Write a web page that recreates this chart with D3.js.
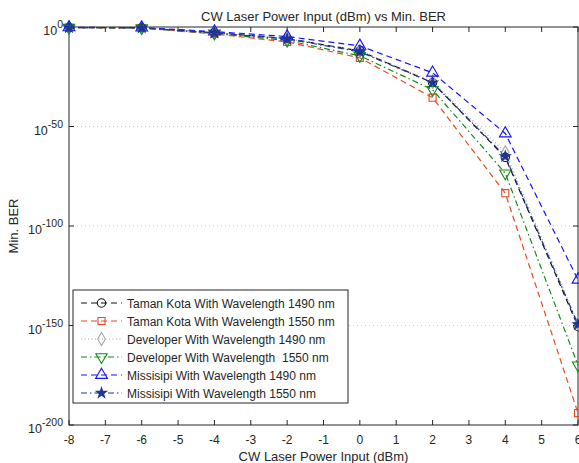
<!DOCTYPE html>
<html>
<head>
<meta charset="utf-8">
<script src="https://cdn.jsdelivr.net/npm/d3@7"></script>
<style>
  body { margin: 0; background: #fff; }
  text { font-family: "Liberation Sans", Arial, sans-serif; fill: #262626; white-space: pre; }
</style>
</head>
<body>
<div id="chart"></div>
<script>
// --------------------------------------
//  Data (log10 of Min. BER)
// --------------------------------------

const powerInput = [-8, -6, -4, -2, 0, 2, 4, 6];

const tamanKota1490 = [-0.3, -0.4, -2.8, -5.8, -12, -28, -65.5, -150.5];
const tamanKota1550 = [-0.3, -0.5, -3.5, -7.5, -15.5, -35.5, -83.5, -194];
const developer1490 = [-0.3, -0.4, -2.8, -5.8, -12, -27.5, -63, -149];
const developer1550 = [-0.3, -0.5, -3.2, -6.8, -14.5, -31.5, -73.5, -170];
const missisipi1490 = [-0.2, -0.3, -2.3, -4.8, -9.5, -23, -53.5, -127];
const missisipi1550 = [-0.3, -0.4, -2.9, -6, -12.5, -28, -65, -149.5];

const seriesLabels = [
  "Taman Kota With Wavelength 1490 nm",
  "Taman Kota With Wavelength 1550 nm",
  "Developer With Wavelength 1490 nm",
  "Developer With Wavelength  1550 nm",
  "Missisipi With Wavelength 1490 nm",
  "Missisipi With Wavelength 1550 nm"
];

const xTicks = [-8, -7, -6, -5, -4, -3, -2, -1, 0, 1, 2, 3, 4, 5, 6];
const yTicks = [0, -50, -100, -150, -200];

// --------------------------------------
//  Canvas
// --------------------------------------

const width = 579, height = 463;
const margin = { left: 69, right: 1, top: 27, bottom: 38 };

const svg = d3.select("#chart")
  .append("svg")
    .attr("width", width)
    .attr("height", height);

const x = d3.scaleLinear()
  .domain([-8, 6])
  .range([margin.left, width - margin.right]);

const y = d3.scaleLinear()
  .domain([0, -200])
  .range([margin.top, height - margin.bottom]);

const styles = [
  { color: "#111111", dash: "6,4", symbol: "circle" },
  { color: "#ea4a1f", dash: "6,4", symbol: "square" },
  { color: "#a6a6a6", dash: "1,2.5", symbol: "diamond" },
  { color: "#14891a", dash: "6,3,1.5,3", symbol: "down" },
  { color: "#1414ff", dash: "6,4", symbol: "up" },
  { color: "#1f3590", dash: "6,3,1.5,3", symbol: "star" }
];

const allSeries = [tamanKota1490, tamanKota1550, developer1490, developer1550, missisipi1490, missisipi1550]
  .map((vals, i) => ({
    label: seriesLabels[i],
    style: styles[i],
    points: powerInput.map((p, j) => ({ x: p, y: vals[j] }))
  }));

// --------------------------------------
//  Grid and axes
// --------------------------------------

svg.append("g")
  .selectAll("line")
  .data(yTicks.filter(t => t !== 0 && t !== -200))
  .join("line")
    .attr("x1", x(-8)).attr("x2", x(6))
    .attr("y1", d => y(d)).attr("y2", d => y(d))
    .attr("stroke", "#c8c8c8")
    .attr("stroke-width", 1)
    .attr("stroke-dasharray", "1,3");

const axisColor = "#262626";
const tickLen = 5;

// box
svg.append("rect")
  .attr("x", x(-8)).attr("y", y(0))
  .attr("width", x(6) - x(-8)).attr("height", y(-200) - y(0))
  .attr("fill", "none")
  .attr("stroke", axisColor)
  .attr("stroke-width", 1);

// x ticks (bottom up, top down)
svg.append("g")
  .selectAll("path")
  .data(xTicks)
  .join("path")
    .attr("d", d => `M${x(d)},${y(-200)}v${-tickLen}M${x(d)},${y(0)}v${tickLen}`)
    .attr("stroke", axisColor);

svg.append("g")
  .selectAll("text")
  .data(xTicks)
  .join("text")
    .attr("x", d => x(d))
    .attr("y", y(-200) + 19)
    .attr("text-anchor", "middle")
    .attr("font-size", 12)
    .text(d => d);

// y ticks (left right, right left)
svg.append("g")
  .selectAll("path")
  .data(yTicks)
  .join("path")
    .attr("d", d => `M${x(-8)},${y(d)}h${tickLen}M${x(6)},${y(d)}h${-tickLen}`)
    .attr("stroke", axisColor);

const yLab = svg.append("g")
  .selectAll("text")
  .data(yTicks)
  .join("text")
    .attr("x", x(-8) - 6)
    .attr("y", d => y(d) + 8)
    .attr("text-anchor", "end")
    .attr("font-size", 12.5);

yLab.append("tspan").text("10");
yLab.append("tspan")
  .attr("dy", -7)
  .attr("font-size", 10.5)
  .text(d => d);

// titles
svg.append("text")
  .attr("x", (x(-8) + x(6)) / 2)
  .attr("y", 21)
  .attr("text-anchor", "middle")
  .attr("font-size", 13)
  .text("CW Laser Power Input (dBm) vs Min. BER");

svg.append("text")
  .attr("x", (x(-8) + x(6)) / 2)
  .attr("y", 461)
  .attr("text-anchor", "middle")
  .attr("font-size", 13)
  .text("CW Laser Power Input (dBm)");

svg.append("text")
  .attr("transform", `translate(18, ${(y(0) + y(-200)) / 2}) rotate(-90)`)
  .attr("text-anchor", "middle")
  .attr("font-size", 13)
  .text("Min. BER");

// --------------------------------------
//  Markers
// --------------------------------------

function marker(sel, style) {
  const s = style.symbol;
  let gen, rot = 0, fill = "none";
  if (s === "circle") gen = d3.symbol(d3.symbolCircle, 55);
  else if (s === "square") gen = d3.symbol(d3.symbolSquare, 50);
  else if (s === "diamond") gen = d3.symbol(d3.symbolDiamond, 50);
  else if (s === "down") { gen = d3.symbol(d3.symbolTriangle, 55); rot = 180; }
  else if (s === "up") gen = d3.symbol(d3.symbolTriangle, 60);
  else { gen = d3.symbol(d3.symbolStar, 32); fill = style.color; }
  sel.attr("d", gen)
    .attr("fill", fill)
    .attr("stroke", style.color)
    .attr("stroke-width", 1.1)
    .attr("transform", function(d) {
      const t = d3.select(this).attr("transform") || "";
      return t + (rot ? ` rotate(${rot})` : "");
    });
}

// --------------------------------------
//  Lines
// --------------------------------------

const line = d3.line()
  .x(d => x(d.x))
  .y(d => y(d.y));

allSeries.forEach(s => {
  const g = svg.append("g");
  g.append("path")
    .datum(s.points)
    .attr("d", line)
    .attr("fill", "none")
    .attr("stroke", s.style.color)
    .attr("stroke-width", 1.2)
    .attr("stroke-dasharray", s.style.dash);

  g.selectAll("path.m")
    .data(s.points)
    .join("path")
      .attr("class", "m")
      .attr("transform", d => `translate(${x(d.x)},${y(d.y)})`)
      .call(marker, s.style);
});

// --------------------------------------
//  Legend
// --------------------------------------

const legend = svg.append("g").attr("transform", "translate(73, 290)");

legend.append("rect")
  .attr("width", 275)
  .attr("height", 113)
  .attr("fill", "#fff")
  .attr("stroke", axisColor)
  .attr("stroke-width", 1);

const rows = legend.selectAll("g.row")
  .data(allSeries)
  .join("g")
    .attr("class", "row")
    .attr("transform", (d, i) => `translate(0, ${13 + i * 18})`);

rows.append("line")
  .attr("x1", 8).attr("x2", 49)
  .attr("stroke", d => d.style.color)
  .attr("stroke-width", 1.2)
  .attr("stroke-dasharray", d => d.style.dash);

rows.each(function(d) {
  d3.select(this).append("path")
    .attr("transform", "translate(28.5,0)")
    .call(marker, d.style);
});

rows.append("text")
  .attr("x", 54)
  .attr("y", 4.5)
  .attr("font-size", 12)
  .text(d => d.label);
</script>
</body>
</html>
